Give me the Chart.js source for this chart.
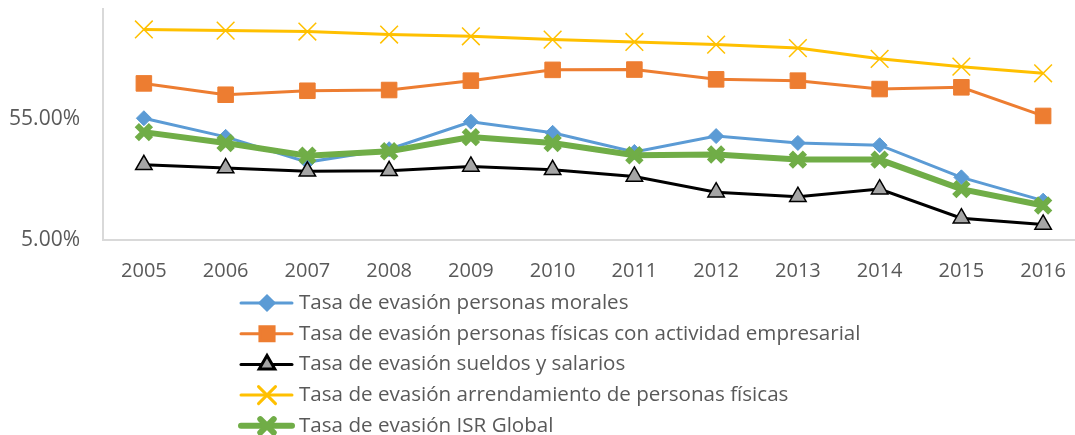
<!DOCTYPE html>
<html>
<head>
<meta charset="utf-8">
<script src="https://cdn.jsdelivr.net/npm/chart.js@4.4.1/dist/chart.umd.min.js"></script>
<style>
  html, body { margin: 0; padding: 0; background: #fff; overflow: hidden; }
  #wrap { width: 1100px; height: 435px; }
</style>
</head>
<body>
<div id="wrap"><canvas id="chart" width="1100" height="435"></canvas></div>
<script>
const years = ["2005", "2006", "2007", "2008", "2009", "2010", "2011", "2012", "2013", "2014", "2015", "2016"];

const morales = [0.558, 0.386, 0.234, 0.302, 0.521, 0.418, 0.286, 0.392, 0.342, 0.327, 0.173, 0.109];
const fisicasEmpresarial = [1.113, 0.889, 0.962, 0.976, 1.175, 1.455, 1.464, 1.206, 1.175, 0.995, 1.03, 0.584];
const sueldos = [0.222, 0.208, 0.195, 0.197, 0.215, 0.201, 0.176, 0.129, 0.118, 0.137, 0.077, 0.068];
const arrendamiento = [3.24, 3.17, 3.11, 2.93, 2.83, 2.65, 2.53, 2.40, 2.24, 1.81, 1.55, 1.36];
const isrGlobal = [0.424, 0.342, 0.266, 0.290, 0.384, 0.342, 0.268, 0.272, 0.246, 0.246, 0.137, 0.099];

const yTicks = [0.05, 0.55];

const textColor = "#595959";
const fontFamily = "'Open Sans', sans-serif";

// legend drawn as a vertical list under the axis
const listLegend = {
  id: "listLegend",
  afterDraw(chart) {
    const ctx = chart.ctx;
    const top = chart.chartArea.bottom + 63;
    ctx.save();
    chart.data.datasets.forEach((ds, i) => {
      const y = top + i * 30.7;
      ctx.strokeStyle = ds.borderColor;
      ctx.lineWidth = ds.borderWidth;
      ctx.lineCap = "round";
      ctx.beginPath();
      ctx.moveTo(241, y);
      ctx.lineTo(292, y);
      ctx.stroke();
      ctx.fillStyle = ds.pointBackgroundColor;
      ctx.strokeStyle = ds.pointBorderColor;
      Chart.helpers.drawPoint(ctx, {
        pointStyle: ds.pointStyle,
        radius: ds.legendRadius,
        borderWidth: ds.pointBorderWidth,
        rotation: 0
      }, 267, y);
      ctx.fillStyle = textColor;
      ctx.font = "20.6px " + fontFamily;
      ctx.textBaseline = "middle";
      ctx.fillText(ds.label, 299, y);
    });
    ctx.restore();
  }
};

new Chart(document.getElementById("chart"), {
  type: "line",
  data: {
    labels: years,
    datasets: [
      {
        label: "Tasa de evasión personas morales",
        data: morales,
        borderColor: "#5B9BD5",
        borderWidth: 3,
        pointStyle: "rectRot",
        pointRadius: 7.5,
        legendRadius: 7,
        pointBackgroundColor: "#5B9BD5",
        pointBorderColor: "#5B9BD5",
        pointBorderWidth: 1,
        order: 3
      },
      {
        label: "Tasa de evasión personas físicas con actividad empresarial",
        data: fisicasEmpresarial,
        borderColor: "#ED7D31",
        borderWidth: 3,
        pointStyle: "rect",
        pointRadius: 11,
        legendRadius: 10,
        pointBackgroundColor: "#ED7D31",
        pointBorderColor: "#ED7D31",
        pointBorderWidth: 1,
        order: 4
      },
      {
        label: "Tasa de evasión sueldos y salarios",
        data: sueldos,
        borderColor: "#000000",
        borderWidth: 3,
        pointStyle: "triangle",
        pointRadius: 9.5,
        legendRadius: 9,
        pointBackgroundColor: "#A5A5A5",
        pointBorderColor: "#000000",
        pointBorderWidth: 1.5,
        order: 2
      },
      {
        label: "Tasa de evasión arrendamiento de personas físicas",
        data: arrendamiento,
        borderColor: "#FFC000",
        borderWidth: 3,
        pointStyle: "crossRot",
        pointRadius: 12.5,
        legendRadius: 12,
        pointBackgroundColor: "#FFC000",
        pointBorderColor: "#FFC000",
        pointBorderWidth: 1.5,
        order: 5
      },
      {
        label: "Tasa de evasión ISR Global",
        data: isrGlobal,
        borderColor: "#70AD47",
        borderWidth: 6,
        pointStyle: "crossRot",
        pointRadius: 10,
        legendRadius: 9.5,
        pointBackgroundColor: "#70AD47",
        pointBorderColor: "#70AD47",
        pointBorderWidth: 6,
        order: 1
      }
    ]
  },
  options: {
    responsive: false,
    animation: false,
    layout: { autoPadding: false, padding: { top: 9, right: 16, bottom: 141, left: 0 } },
    plugins: {
      legend: { display: false },
      tooltip: { enabled: false }
    },
    elements: { line: { tension: 0 } },
    scales: {
      x: {
        offset: true,
        grid: { display: false },
        border: { display: true, color: "#D9D9D9", width: 2 },
        ticks: { color: textColor, font: { size: 20, family: fontFamily }, padding: 11, maxRotation: 0 },
        afterFit: scale => {
          scale.paddingLeft = 0;
          scale.paddingRight = 0;
        }
      },
      y: {
        type: "logarithmic",
        min: 0.05,
        max: 4.86,
        grid: { display: false },
        border: { display: true, color: "#D9D9D9", width: 2 },
        afterBuildTicks: scale => {
          scale.ticks = yTicks.map(v => ({ value: v }));
        },
        afterFit: scale => {
          scale.width = 103;
          scale.paddingTop = 0;
          scale.paddingBottom = 0;
        },
        ticks: {
          color: textColor,
          font: { size: 21, family: fontFamily },
          padding: 15,
          callback: v => (v * 100).toFixed(2) + "%"
        }
      }
    }
  },
  plugins: [listLegend]
});
</script>
</body>
</html>
